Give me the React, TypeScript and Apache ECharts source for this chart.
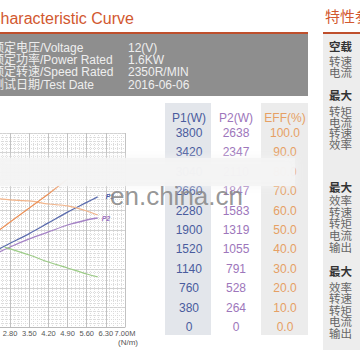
import React, { useEffect, useRef } from "react";
import * as echarts from "echarts";

// ---- data ----
const torqueTicksMin = 2.1;
const torqueMax = 7.0;
const torqueStep = 0.7;

const p1Torque = [2.1, 2.8, 3.5, 4.2, 4.9, 5.6, 6.0];
const p1Values = [1450, 1640, 1830, 2040, 2250, 2440, 2550];

const p2Torque = [2.1, 2.8, 3.5, 4.2, 4.9, 5.6, 6.0];
const p2Values = [966, 1088, 1197, 1292, 1387, 1455, 1482];

const effTorque = [2.1, 2.8, 3.5, 4.2, 4.9, 5.6, 6.0];
const effValues = [66.5, 65.5, 65.0, 63.4, 62.4, 59.8, 57.7];

const speedTorque = [2.6, 3.5, 4.2, 4.9, 5.6, 6.0];
const speedValues = [41.2, 37.1, 33.5, 30.4, 27.3, 25.8];

const currentTorque = [2.1, 2.8, 3.5, 4.2, 4.9];
const currentValues = [46.9, 54.1, 61.3, 68.6, 76.3];

const p2TickLabels = ["0", "264", "528", "791", "1055", "1319", "1583", "1847", "2110", "2347", "2638"];

const specLabels = ["额定电压/Voltage", "额定功率/Power Rated", "额定转速/Speed Rated", "测试日期/Test Date"];
const specValues = ["12(V)", "1.6KW", "2350R/MIN", "2016-06-06"];

const panelLabels = ["空载", "转速", "电流", "最大", "转矩", "电流", "转速", "效率", "最大", "效率", "转速", "转矩", "电流", "输出", "最大", "效率", "转速", "转矩", "电流", "输出"];
const panelBold = [true, false, false, true, false, false, false, false, true, false, false, false, false, false, true, false, false, false, false, false];

// ---- layout ----
const specRowY = [48, 60, 72, 85];
const panelY = [46, 61, 72, 95, 111, 122, 133, 144, 187, 200, 212, 223, 235, 247, 271, 287, 298, 310, 321, 333];

const FONT = "'Liberation Sans', Arial, 'Noto Sans CJK SC', sans-serif";
const RED = "#d2582f";
const BLUE = "#4a5c9e";
const PURPLE = "#9d76bb";
const ORANGE = "#e6a064";

const pair = (xs: number[], ys: number[]) => xs.map((x, i) => [x, ys[i]]);

export default function App() {
  const ref = useRef<HTMLDivElement>(null);
  useEffect(() => {
    const chart = echarts.init(ref.current!, null, { renderer: "svg" });
    const graphics: any[] = [
      { type: "text", x: -11, y: 18, style: { text: "Characteristic Curve", fill: RED, font: `16px ${FONT}`, verticalAlign: "middle" } },
      { type: "text", x: 325, y: 15, style: { text: "特性参数", fill: RED, font: `15px 'Noto Sans CJK SC', sans-serif`, verticalAlign: "middle" } },
      { type: "rect", shape: { x: -2, y: 33, width: 310, height: 63 }, style: { fill: "#8e8e8e" } },
      { type: "rect", shape: { x: -2, y: 32, width: 310, height: 2 }, style: { fill: "#bf4f2c" } },
      { type: "rect", shape: { x: 323, y: 33, width: 40, height: 317 }, style: { fill: "#ededed" } },
      { type: "rect", shape: { x: 323, y: 32, width: 40, height: 2 }, style: { fill: "#bf4f2c" } },
      { type: "rect", z: -5, shape: { x: 165, y: 103, width: 46, height: 232 }, style: { fill: "#e3e6eb" } },
      { type: "rect", z: -5, shape: { x: 261, y: 103, width: 47, height: 232 }, style: { fill: "#ececec" } },
      { type: "text", x: 118, y: 342, style: { text: "(N/m)", font: `8px ${FONT}`, fill: "#555", verticalAlign: "middle" } },
    ];
    specLabels.forEach((t, i) => {
      graphics.push({ type: "text", x: -8, y: specRowY[i], style: { text: t, font: `12px ${FONT}`, fill: "#eeeeee", verticalAlign: "middle" } });
      graphics.push({ type: "text", x: 128, y: specRowY[i], style: { text: specValues[i], font: `12px ${FONT}`, fill: "#eeeeee", verticalAlign: "middle" } });
    });
    panelLabels.forEach((t, i) => {
      graphics.push({
        type: "text",
        x: 329,
        y: panelY[i],
        style: {
          text: t,
          font: `${panelBold[i] ? "bold " : ""}11.5px 'Noto Sans CJK SC', sans-serif`,
          fill: panelBold[i] ? "#333" : "#666",
          verticalAlign: "middle",
        },
      });
    });
    // watermark band
    graphics.push({ type: "rect", z: 100, shape: { x: -5, y: 158, width: 300, height: 28 }, style: { fill: "rgba(244,244,244,0.9)", shadowBlur: 8, shadowColor: "rgba(244,244,244,0.9)" } });
    graphics.push({ type: "text", z: 101, x: 110, y: 183, style: { text: "en.china.cn", font: `26px ${FONT}`, fill: "#8a8a8a", verticalAlign: "alphabetic", opacity: 0.9 } });

    const lineBase = { type: "line", showSymbol: false, smooth: 0.3, lineStyle: { width: 1.2 } };
    chart.setOption({
      animation: false,
      backgroundColor: "#ffffff",
      textStyle: { fontFamily: FONT },
      grid: { left: -9, right: 235, top: 133, bottom: 33, containLabel: false, outerBoundsMode: "none" },
      xAxis: {
        type: "value",
        min: torqueTicksMin,
        max: torqueMax,
        interval: torqueStep,
        axisLine: { show: true, lineStyle: { color: "#bbbbbb" } },
        axisTick: { show: false },
        axisLabel: {
          fontSize: 7.5,
          color: "#555",
          margin: 3,
          showMaxLabel: true,
          showMinLabel: true,
          formatter: (v: number) => (v >= 6.99 ? v.toFixed(2) + "M" : v.toFixed(2)),
        },
        splitLine: { show: true, lineStyle: { color: "#c2c2c2", width: 1 } },
        minorTick: { show: false, splitNumber: 5 },
        minorSplitLine: { show: true, lineStyle: { color: "#dcdcdc", type: "dotted" } },
      },
      yAxis: [
        {
          type: "value",
          min: 0,
          max: 3800,
          interval: 380,
          position: "right",
          offset: 64,
          name: "P1(W)",
          nameLocation: "end",
          nameGap: 9,
          nameTextStyle: { color: BLUE, fontSize: 12, align: "center", verticalAlign: "bottom" },
          axisLine: { show: false },
          axisTick: { show: false },
          axisLabel: { color: BLUE, fontSize: 12, align: "center", margin: 0, formatter: (v: number) => String(v) },
          splitLine: { show: true, lineStyle: { color: "#d2d2d2" } },
          minorTick: { show: false, splitNumber: 5 },
          minorSplitLine: { show: true, lineStyle: { color: "#dcdcdc", type: "dotted" } },
        },
        {
          type: "value",
          min: 0,
          max: 2638,
          interval: 263.8,
          position: "right",
          offset: 111,
          name: "P2(W)",
          nameLocation: "end",
          nameGap: 9,
          nameTextStyle: { color: PURPLE, fontSize: 12, align: "center", verticalAlign: "bottom" },
          axisLine: { show: false },
          axisTick: { show: false },
          axisLabel: {
            color: PURPLE,
            fontSize: 12,
            align: "center",
            margin: 0,
            formatter: (v: number) => p2TickLabels[Math.round(v / 263.8)] ?? "",
          },
          splitLine: { show: false },
        },
        {
          type: "value",
          min: 0,
          max: 100,
          interval: 10,
          position: "right",
          offset: 160,
          name: "EFF(%)",
          nameLocation: "end",
          nameGap: 9,
          nameTextStyle: { color: ORANGE, fontSize: 12, align: "center", verticalAlign: "bottom" },
          axisLine: { show: false },
          axisTick: { show: false },
          axisLabel: { color: ORANGE, fontSize: 12, align: "center", margin: 0, formatter: (v: number) => v.toFixed(1) },
          splitLine: { show: false },
        },
      ],
      series: [
        {
          ...lineBase,
          name: "P1",
          yAxisIndex: 0,
          data: pair(p1Torque, p1Values),
          lineStyle: { width: 1.3, color: "#5b6cae" },
          itemStyle: { color: "#5b6cae" },
          endLabel: { show: true, formatter: "P1", color: "#4b5ca8", fontSize: 7, fontWeight: "bold", fontStyle: "italic", distance: 8 },
        },
        {
          ...lineBase,
          name: "P2",
          yAxisIndex: 1,
          data: pair(p2Torque, p2Values),
          lineStyle: { width: 1.3, color: "#a583c6" },
          itemStyle: { color: "#a583c6" },
          endLabel: { show: true, formatter: "P2", color: "#9a6fc0", fontSize: 7, fontWeight: "bold", fontStyle: "italic", distance: 4 },
        },
        {
          ...lineBase,
          name: "效率",
          yAxisIndex: 2,
          data: pair(effTorque, effValues),
          lineStyle: { width: 1.2, color: "#f2b48a" },
          itemStyle: { color: "#f2b48a" },
        },
        {
          ...lineBase,
          name: "转速",
          yAxisIndex: 2,
          data: pair(speedTorque, speedValues),
          lineStyle: { width: 1.2, color: "#9ccc86" },
          itemStyle: { color: "#9ccc86" },
        },
        {
          ...lineBase,
          name: "电流",
          yAxisIndex: 2,
          smooth: false,
          data: pair(currentTorque, currentValues),
          lineStyle: { width: 1.2, color: "#eb8f55" },
          itemStyle: { color: "#eb8f55" },
        },
      ],
      graphic: graphics,
    });
    return () => chart.dispose();
  }, []);
  return <div ref={ref} style={{ position: "fixed", left: 0, top: 0, width: 360, height: 360 }} />;
}
